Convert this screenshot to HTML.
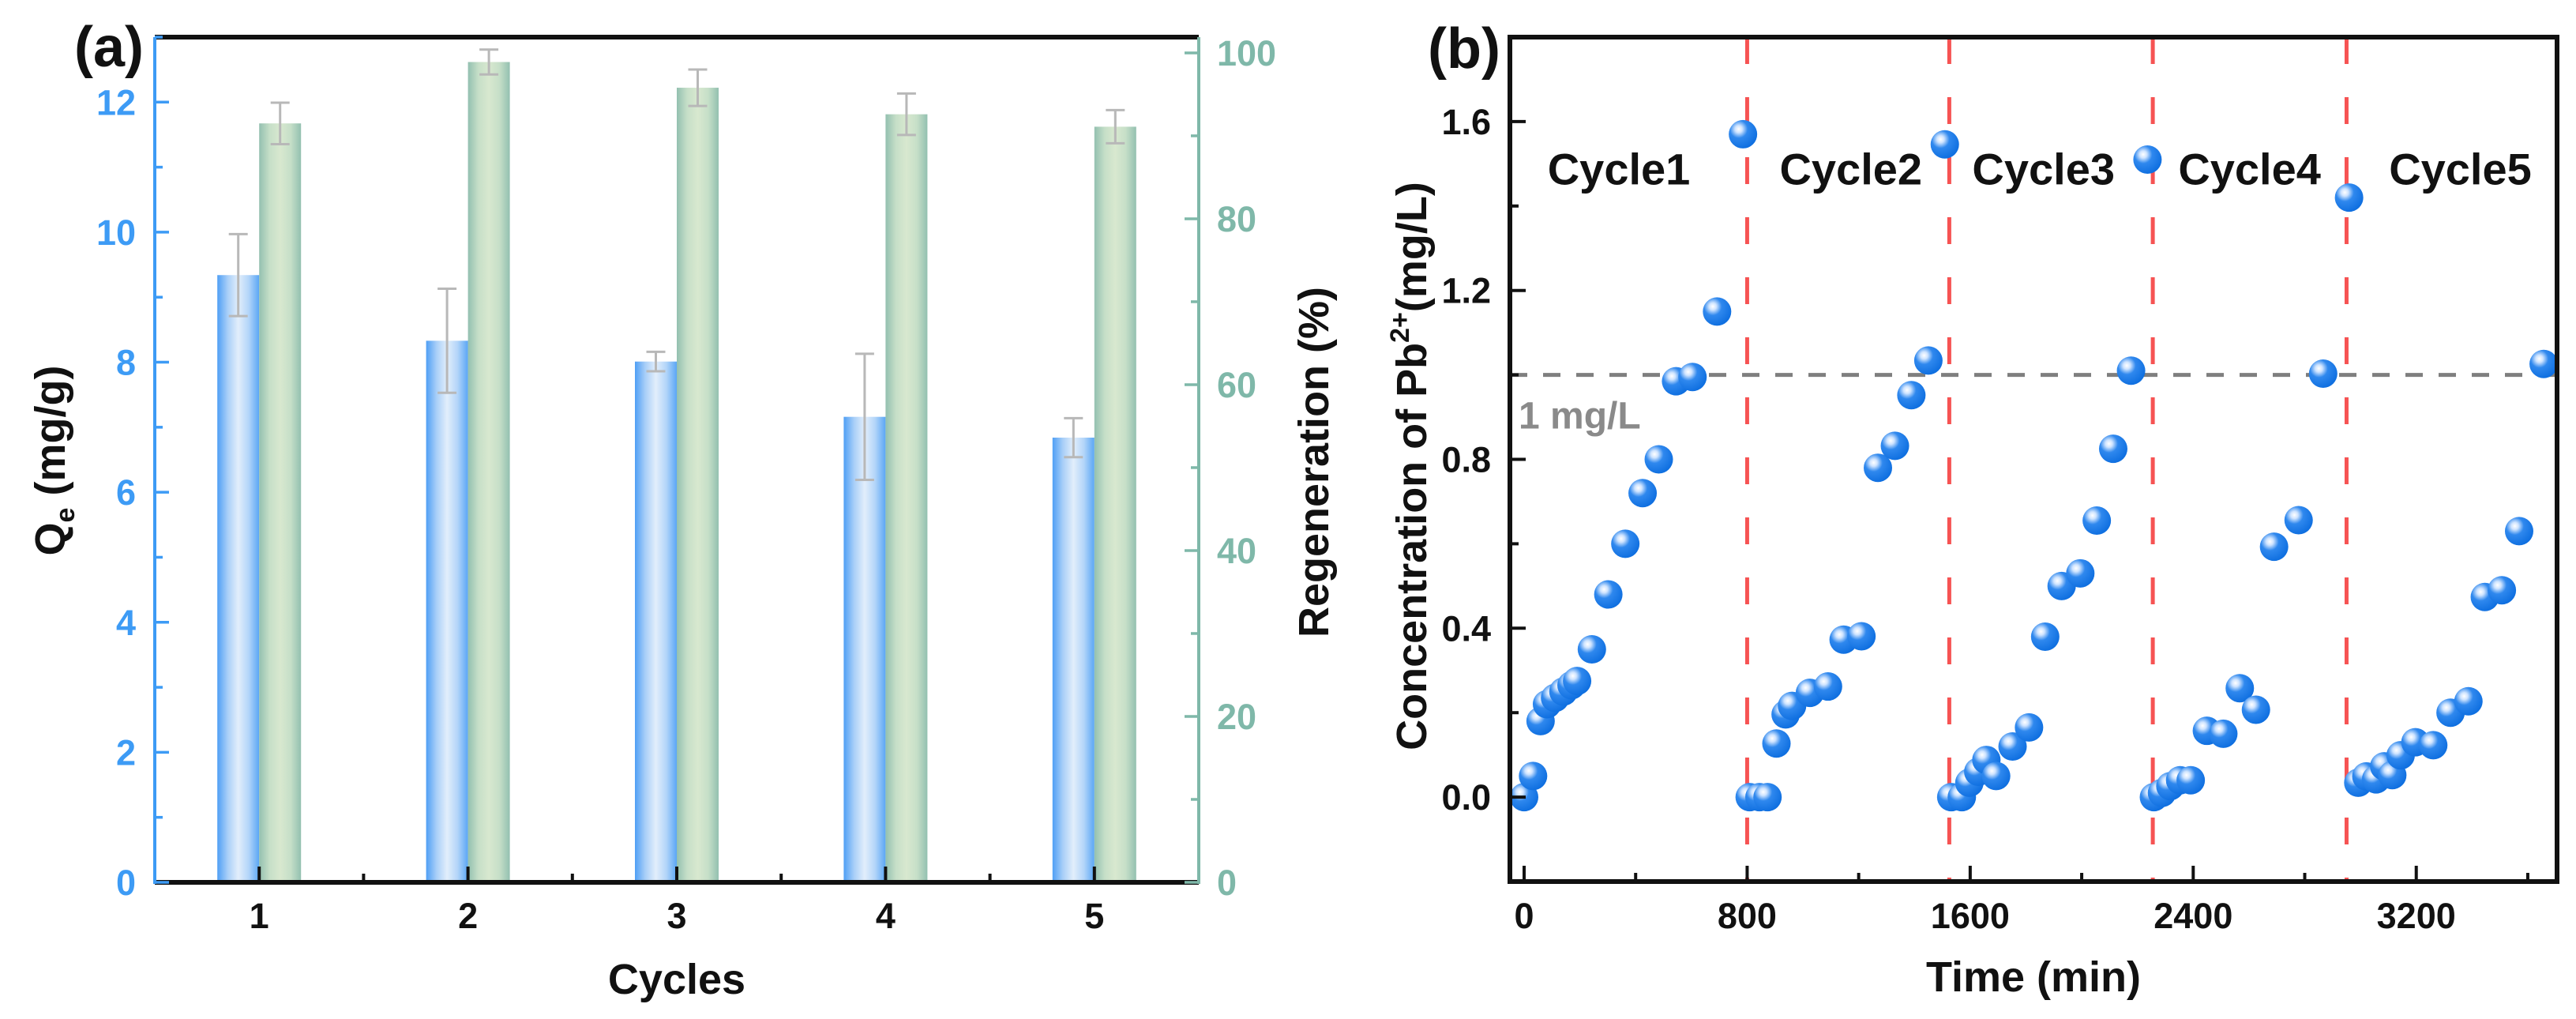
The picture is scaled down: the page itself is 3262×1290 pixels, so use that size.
<!DOCTYPE html>
<html><head><meta charset="utf-8"><style>
html,body{margin:0;padding:0;background:#fff;}
svg{display:block;font-family:"Liberation Sans",Arial,sans-serif;}
</style></head><body>
<svg id="chart" width="3262" height="1290" viewBox="0 0 3262 1290" xmlns="http://www.w3.org/2000/svg">
<defs>
<linearGradient id="gBlue" x1="0" x2="1" y1="0" y2="0">
<stop offset="0" stop-color="#4f9ff5"/><stop offset="0.25" stop-color="#a9cff8"/><stop offset="0.5" stop-color="#e2eefb"/><stop offset="0.75" stop-color="#b3d5f9"/><stop offset="1" stop-color="#5aa6f5"/></linearGradient>
<linearGradient id="gGreen" x1="0" x2="1" y1="0" y2="0">
<stop offset="0" stop-color="#93c0b0"/><stop offset="0.25" stop-color="#c6dfc8"/><stop offset="0.5" stop-color="#d8e8cf"/><stop offset="0.75" stop-color="#c6dfc8"/><stop offset="1" stop-color="#93c0b0"/></linearGradient>
<radialGradient id="gBall" cx="0.35" cy="0.32" r="0.7">
<stop offset="0" stop-color="#ffffff"/><stop offset="0.18" stop-color="#cfe4ff"/><stop offset="0.45" stop-color="#2f88ee"/><stop offset="1" stop-color="#0f6fe0"/></radialGradient>
</defs>
<g id="pa"></g>
<g id="pb"></g>
</svg>
<script>
// ---------- Panel (a) data ----------
const cycles = [1, 2, 3, 4, 5];
const qeValues = [9.34, 8.33, 8.01, 7.16, 6.84];
const qeErrors = [0.63, 0.80, 0.15, 0.97, 0.30];
const regenValues = [91.5, 98.9, 95.8, 92.6, 91.1];
const regenErrors = [2.5, 1.5, 2.2, 2.5, 2.0];
const qeTicks = [0, 2, 4, 6, 8, 10, 12];
const regenTicks = [0, 20, 40, 60, 80, 100];
// ---------- Panel (b) data ----------
const timeValues = [0,32,59,82,111,141,170,190,243,302,363,425,483,545,604,692,785,
 809,844,873,905,938,961,1025,1090,1146,1210,1269,1330,1389,1450,1509,
 1532,1570,1597,1629,1658,1693,1752,1811,1869,1928,1995,2054,2113,2177,2236,
 2259,2288,2318,2353,2391,2449,2508,2567,2625,2690,2778,2866,2959,
 2992,3021,3056,3085,3114,3144,3197,3261,3323,3387,3446,3507,3569,3657];
const concValues = [0,0.05,0.18,0.22,0.235,0.25,0.265,0.275,0.35,0.48,0.60,0.72,0.80,0.985,0.995,1.15,1.57,
 0,0,0,0.127,0.196,0.216,0.247,0.262,0.373,0.381,0.78,0.832,0.952,1.034,1.546,
 0,0,0.034,0.06,0.088,0.05,0.12,0.165,0.38,0.50,0.53,0.655,0.825,1.01,1.51,
 0,0.01,0.026,0.04,0.04,0.157,0.15,0.258,0.207,0.593,0.656,1.003,1.42,
 0.034,0.049,0.042,0.073,0.052,0.099,0.13,0.123,0.2,0.227,0.474,0.49,0.63,1.026];
const cycleBoundaries = [800, 1525, 2255, 2950];
const cycleLabels = ["Cycle1","Cycle2","Cycle3","Cycle4","Cycle5"];
const cycleLabelTimes = [340, 1172, 1863, 2602, 3358];
const cycleLabelLevel = 1.49;
const thresholdValue = 1.0;
const timeTicks = [0, 800, 1600, 2400, 3200];
const concTicks = [0.0, 0.4, 0.8, 1.2, 1.6];

const NS = "http://www.w3.org/2000/svg";
function mk(parent, tag, attrs, text){
  const e = document.createElementNS(NS, tag);
  for (const k in attrs) e.setAttribute(k, attrs[k]);
  if (text !== undefined) e.textContent = text;
  parent.appendChild(e); return e;
}

// ---------- Panel (a) ----------
const pa = document.getElementById('pa');
const A = {x0:196, x1:1518, y0:1117, y1:47};
const ax = c => A.x0 + (c - 0.5) / 5 * (A.x1 - A.x0);
const ayL = v => A.y0 - v / 13.0 * (A.y0 - A.y1);
const ayR = v => A.y0 - v / 101.9 * (A.y0 - A.y1);
const BW = 53;
cycles.forEach((c, i) => {
  const cx = ax(c);
  let r = mk(pa, 'rect', {x: cx - BW, y: ayL(qeValues[i]), width: BW, height: A.y0 - ayL(qeValues[i]), fill: 'url(#gBlue)'});
  
  
  r = mk(pa, 'rect', {x: cx, y: ayR(regenValues[i]), width: BW, height: A.y0 - ayR(regenValues[i]), fill: 'url(#gGreen)'});
  
  
  const ex1 = cx - BW / 2, ex2 = cx + BW / 2;
  const e1 = mk(pa, 'g', {stroke: '#b8b8b8', 'stroke-width': 3});
  
  
  const t1 = ayL(qeValues[i] + qeErrors[i]), b1 = ayL(qeValues[i] - qeErrors[i]);
  mk(e1, 'line', {x1: ex1, x2: ex1, y1: t1, y2: b1});
  mk(e1, 'line', {x1: ex1 - 12, x2: ex1 + 12, y1: t1, y2: t1});
  mk(e1, 'line', {x1: ex1 - 12, x2: ex1 + 12, y1: b1, y2: b1});
  const e2 = mk(pa, 'g', {stroke: '#b8b8b8', 'stroke-width': 3});
  
  
  const t2 = ayR(regenValues[i] + regenErrors[i]), b2 = ayR(regenValues[i] - regenErrors[i]);
  mk(e2, 'line', {x1: ex2, x2: ex2, y1: t2, y2: b2});
  mk(e2, 'line', {x1: ex2 - 12, x2: ex2 + 12, y1: t2, y2: t2});
  mk(e2, 'line', {x1: ex2 - 12, x2: ex2 + 12, y1: b2, y2: b2});
});
mk(pa, 'line', {x1: A.x0, x2: A.x1, y1: A.y1, y2: A.y1, stroke: '#111', 'stroke-width': 6});
mk(pa, 'line', {x1: A.x0, x2: A.x1, y1: A.y0, y2: A.y0, stroke: '#111', 'stroke-width': 6});
mk(pa, 'line', {x1: A.x0, x2: A.x0, y1: A.y1, y2: A.y0 + 2, stroke: '#3d9bf5', 'stroke-width': 4});
mk(pa, 'line', {x1: A.x1, x2: A.x1, y1: A.y1, y2: A.y0 + 2, stroke: '#7fb8a9', 'stroke-width': 4});
for (let v = 0; v <= 13; v++) {
  const y = ayL(v), len = v % 2 === 0 ? 18 : 10;
  mk(pa, 'line', {x1: A.x0, x2: A.x0 + len, y1: y, y2: y, stroke: '#3d9bf5', 'stroke-width': 3.5});
}
qeTicks.forEach(v => {
  const t = mk(pa, 'text', {x: 172, y: ayL(v) + 16, 'text-anchor': 'end', 'font-size': 45, 'font-weight': 'bold', fill: '#3d9bf5'}, String(v));
  
  
});
for (let v = 0; v <= 100; v += 10) {
  const y = ayR(v), len = v % 20 === 0 ? 18 : 10;
  mk(pa, 'line', {x1: A.x1, x2: A.x1 - len, y1: y, y2: y, stroke: '#7fb8a9', 'stroke-width': 3.5});
}
regenTicks.forEach(v => {
  const t = mk(pa, 'text', {x: 1541, y: ayR(v) + 16, 'text-anchor': 'start', 'font-size': 45, 'font-weight': 'bold', fill: '#7fb8a9'}, String(v));
  
  
});
for (let c = 1; c <= 5; c += 0.5) {
  const major = Number.isInteger(c);
  mk(pa, 'line', {x1: ax(c), x2: ax(c), y1: A.y0, y2: A.y0 - (major ? 20 : 11), stroke: '#111', 'stroke-width': 4});
}
cycles.forEach(c => {
  const t = mk(pa, 'text', {x: ax(c), y: 1175, 'text-anchor': 'middle', 'font-size': 45, 'font-weight': 'bold', fill: '#111'}, String(c));
  
  
});
let tt = mk(pa, 'text', {x: 857, y: 1258, 'text-anchor': 'middle', 'font-size': 54, 'font-weight': 'bold', fill: '#111'}, 'Cycles');


tt = mk(pa, 'text', {transform: 'translate(82,583) rotate(-90)', 'text-anchor': 'middle', 'font-size': 54, 'font-weight': 'bold', fill: '#111'});


mk(tt, 'tspan', {}, 'Q');
mk(tt, 'tspan', {'font-size': 34, dy: 12}, 'e');
mk(tt, 'tspan', {dy: -12}, ' (mg/g)');
tt = mk(pa, 'text', {transform: 'translate(1682,585) rotate(-90)', 'text-anchor': 'middle', 'font-size': 54, 'font-weight': 'bold', fill: '#111'}, 'Regeneration (%)');


tt = mk(pa, 'text', {x: 94, y: 84, 'font-size': 72, 'font-weight': 'bold', fill: '#111'}, '(a)');



// ---------- Panel (b) ----------
const pb = document.getElementById('pb');
const B = {x0:1912, x1:3238, y0:1116, y1:47};
const bx = t => B.x0 + (t + 51) / 3756 * (B.x1 - B.x0);
const by = v => B.y0 - (v + 0.2) / 2.0 * (B.y0 - B.y1);
let th = mk(pb, 'line', {x1: B.x0, x2: B.x1, y1: by(thresholdValue), y2: by(thresholdValue), stroke: '#7f7f7f', 'stroke-width': 5, 'stroke-dasharray': '22 20'});


th = mk(pb, 'text', {x: 1923, y: by(0.905) + 17, 'font-size': 48, 'font-weight': 'bold', fill: '#8a8a8a'}, '1 mg/L');


cycleBoundaries.forEach(t => {
  const l = mk(pb, 'line', {x1: bx(t), x2: bx(t), y1: B.y1, y2: B.y0, stroke: '#f65353', 'stroke-width': 5, 'stroke-dasharray': '34 42'});
  
  
});
cycleLabels.forEach((s, i) => {
  const t = mk(pb, 'text', {x: bx(cycleLabelTimes[i]), y: by(cycleLabelLevel) + 21, 'text-anchor': 'middle', 'font-size': 56, 'font-weight': 'bold', fill: '#111'}, s);
  
  
});
timeValues.forEach((t, i) => {
  const c = mk(pb, 'circle', {cx: bx(t), cy: by(concValues[i]), r: 18, fill: 'url(#gBall)'});
  
  
});
mk(pb, 'rect', {x: B.x0, y: B.y1, width: B.x1 - B.x0, height: B.y0 - B.y1, fill: 'none', stroke: '#111', 'stroke-width': 6});
for (let t = 0; t <= 3600; t += 400) {
  const major = t % 800 === 0;
  mk(pb, 'line', {x1: bx(t), x2: bx(t), y1: B.y0, y2: B.y0 - (major ? 20 : 11), stroke: '#111', 'stroke-width': 4});
}
timeTicks.forEach(t => {
  const e = mk(pb, 'text', {x: bx(t), y: 1175, 'text-anchor': 'middle', 'font-size': 45, 'font-weight': 'bold', fill: '#111'}, String(t));
  
  
});
for (let k = -1; k <= 8; k++) {
  const v = k * 0.2, major = k % 2 === 0;
  mk(pb, 'line', {x1: B.x0, x2: B.x0 + (major ? 20 : 11), y1: by(v), y2: by(v), stroke: '#111', 'stroke-width': 4});
}
concTicks.forEach(v => {
  const e = mk(pb, 'text', {x: 1888, y: by(v) + 16, 'text-anchor': 'end', 'font-size': 45, 'font-weight': 'bold', fill: '#111'}, v.toFixed(1));
  
  
});
tt = mk(pb, 'text', {x: 2575, y: 1255, 'text-anchor': 'middle', 'font-size': 54, 'font-weight': 'bold', fill: '#111'}, 'Time (min)');


tt = mk(pb, 'text', {transform: 'translate(1806,590) rotate(-90)', 'text-anchor': 'middle', 'font-size': 54, 'font-weight': 'bold', fill: '#111'});


mk(tt, 'tspan', {}, 'Concentration of Pb');
mk(tt, 'tspan', {'font-size': 34, dy: -22}, '2+');
mk(tt, 'tspan', {dy: 22}, '(mg/L)');
tt = mk(pb, 'text', {x: 1808, y: 86, 'font-size': 72, 'font-weight': 'bold', fill: '#111'}, '(b)');


</script>
</body></html>
